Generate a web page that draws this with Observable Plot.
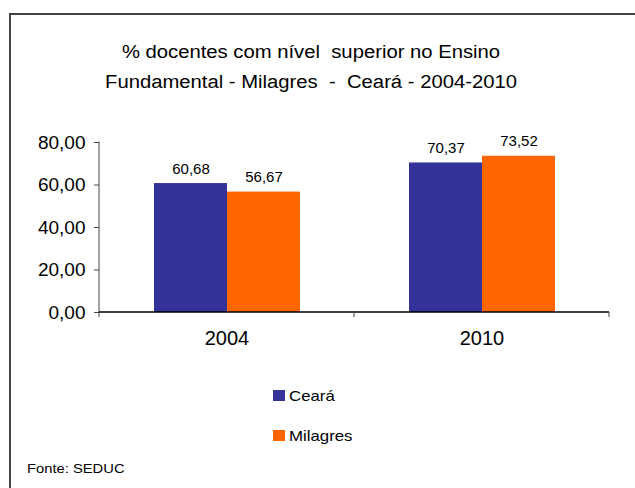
<!DOCTYPE html>
<html>
<head>
<meta charset="utf-8">
<script src="https://cdn.jsdelivr.net/npm/d3@7"></script>
<script src="https://cdn.jsdelivr.net/npm/@observablehq/plot@0.6"></script>
<style>
  html, body { margin: 0; padding: 0; background: #fff; }
  #wrap { position: relative; width: 635px; height: 488px; overflow: hidden; font-family: "Liberation Sans", Arial, sans-serif; color: #000; }
  #border { position: absolute; left: 9px; top: 13px; width: 640px; height: 500px; border: 2px solid #444; box-sizing: border-box; }
  .title { position: absolute; left: 0; width: 622px; text-align: center; font-size: 18px; white-space: pre; transform: scaleX(1.125); transform-origin: 311px 0; }
  .leg { position: absolute; font-size: 15px; display: flex; align-items: center; }
  .leg span { display: inline-block; transform: scaleX(1.12); transform-origin: 0 0; }
  .sw { width: 12px; height: 11px; margin-right: 4px; }
  #fonte { position: absolute; left: 27px; top: 462px; font-size: 12.5px; transform: scaleX(1.18); transform-origin: 0 0; white-space: pre; }
  #chart { position: absolute; left: 0; top: 0; }
</style>
</head>
<body>
<div id="wrap">
  <div id="border"></div>
  <div id="chart"></div>
  <div class="title" id="t1" style="top:42px"></div>
  <div class="title" id="t2" style="top:72px"></div>
  <div id="legend"></div>
  <div id="fonte"></div>
</div>
<script>
const titleLines = ["% docentes com nível  superior no Ensino", "Fundamental - Milagres  -  Ceará - 2004-2010"];
const years = ["2004", "2010"];
const series = ["Ceará", "Milagres"];
const colors = ["#333399", "#FF6600"];
const cearaValues = [60.68, 70.37];
const milagresValues = [56.67, 73.52];
const yTicks = [0, 20, 40, 60, 80];
const source = "Fonte: SEDUC";

const fmt = d => d.toFixed(2).replace(".", ",");

const data = [];
years.forEach((yr, i) => {
  data.push({year: yr, series: series[0], value: cearaValues[i]});
  data.push({year: yr, series: series[1], value: milagresValues[i]});
});

document.getElementById("t1").textContent = titleLines[0];
document.getElementById("t2").textContent = titleLines[1];
document.getElementById("fonte").textContent = source;

const legend = document.getElementById("legend");
series.forEach((s, i) => {
  const d = document.createElement("div");
  d.className = "leg";
  d.style.left = "273px";
  d.style.top = (387 + i * 40) + "px";
  d.innerHTML = `<div class="sw" style="background:${colors[i]}"></div><span>${s}</span>`;
  legend.appendChild(d);
});

const chart = Plot.plot({
  width: 635,
  height: 488,
  marginLeft: 98,
  marginRight: 26,
  marginTop: 142,
  marginBottom: 176,
  style: { fontFamily: "Liberation Sans, Arial, sans-serif", background: "transparent", color: "#000" },
  fx: { domain: years, padding: 0, label: null },
  x: { domain: series, paddingInner: 0, paddingOuter: 0.738, axis: null },
  y: { domain: [0, 80], label: null },
  color: { domain: series, range: colors },
  marks: [
    Plot.axisY({ ticks: yTicks, tickFormat: fmt, tickSize: 5, tickPadding: 9, fontSize: 19, label: null, stroke: "#444" }),
    Plot.axisFx({ anchor: "bottom", tickSize: 0, tickPadding: 18, fontSize: 20, label: null }),
    Plot.barY(data, { fx: "year", x: "series", y: "value", fill: "series" }),
    Plot.text(data, { fx: "year", x: "series", y: "value", text: d => fmt(d.value), dy: -10, lineAnchor: "bottom", fontSize: 15 })
  ]
});

// axis lines and boundary ticks, drawn once from the plot's own scales
const sy = chart.scale("y"), sfx = chart.scale("fx");
const svg = d3.select(chart);
const y0 = sy.apply(0), yTop = sy.apply(80);
const xL = sfx.apply(years[0]);
const xR = sfx.apply(years[years.length - 1]) + sfx.bandwidth;
const g = svg.append("g");
g.append("line").attr("x1", xL).attr("x2", xL).attr("y1", yTop - 0.5).attr("y2", y0 + 5).attr("stroke", "#444");
g.append("line").attr("x1", xL).attr("x2", xR).attr("y1", y0).attr("y2", y0).attr("stroke", "#000").attr("stroke-width", 1.5);
years.forEach(yr => {
  const xx = sfx.apply(yr) + sfx.bandwidth;
  g.append("line").attr("x1", xx).attr("x2", xx).attr("y1", y0).attr("y2", y0 + 5).attr("stroke", "#444");
});
document.getElementById("chart").appendChild(chart);
</script>
</body>
</html>
